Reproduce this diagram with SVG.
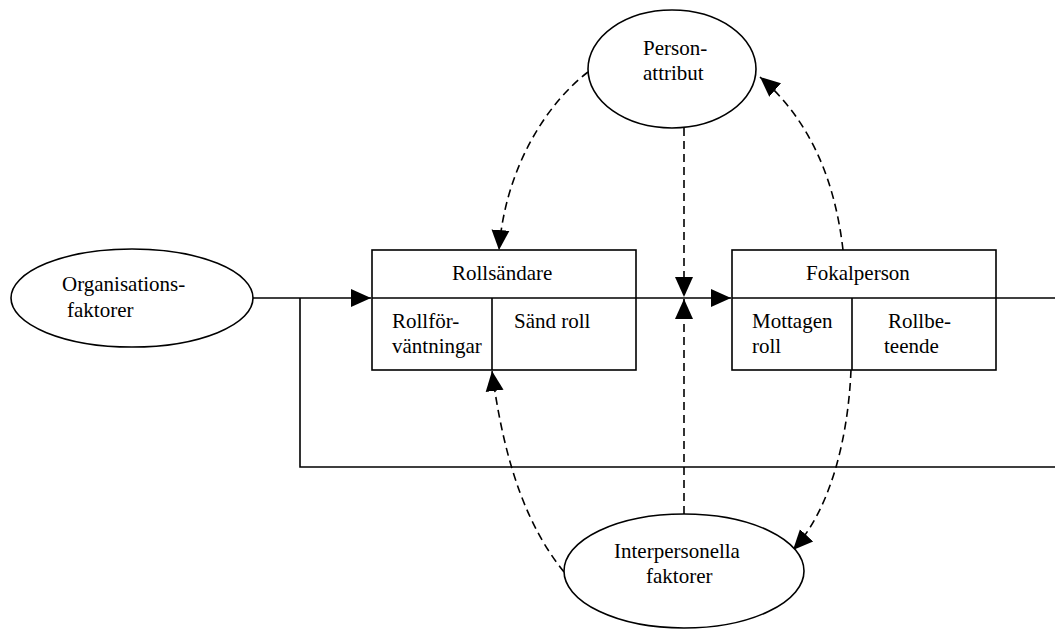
<svg xmlns="http://www.w3.org/2000/svg" width="1055" height="629" viewBox="0 0 1055 629">
<style>
text{font-family:"Liberation Serif","Times New Roman",serif;font-size:21px;fill:#000}
.s{fill:none;stroke:#000;stroke-width:1.6}
.d{fill:none;stroke:#000;stroke-width:1.6;stroke-dasharray:8,5}
.n{fill:#fff;stroke:#000;stroke-width:1.6}
</style>
<defs>
<marker id="a" markerUnits="userSpaceOnUse" markerWidth="20" markerHeight="20" refX="20" refY="10" orient="auto">
<path d="M0,1 L20,10 L0,19 z" fill="#000"/>
</marker>
</defs>
<g id="connectors">
<path class="s" d="M253,298 H371" marker-end="url(#a)"/>
<path class="s" d="M300,298 V467 H1055"/>
<path class="s" d="M636,298 H731" marker-end="url(#a)"/>
<path class="s" d="M996,298 H1055"/>
<path class="d" d="M684,128 V297" marker-end="url(#a)"/>
<path class="d" d="M684,514 V299" marker-end="url(#a)"/>
<path class="d" d="M588,72 C545,105 505,170 499,250" marker-end="url(#a)"/>
<path class="d" d="M843,250 C835,180 810,120 760,77" marker-end="url(#a)"/>
<path class="d" d="M564,572 C530,530 505,470 492,371" marker-end="url(#a)"/>
<path class="d" d="M851,370 C848,440 830,510 793,550" marker-end="url(#a)"/>
</g>
<g id="organisationsfaktorer">
<ellipse class="n" cx="132" cy="298" rx="121" ry="49"/>
<text x="62" y="291">Organisations-</text>
<text x="67" y="317">faktorer</text>
</g>
<g id="personattribut">
<ellipse class="n" cx="672" cy="69" rx="84" ry="59"/>
<text x="643" y="55">Person-</text>
<text x="643" y="80">attribut</text>
</g>
<g id="interpersonella">
<ellipse class="n" cx="684" cy="571" rx="120" ry="57"/>
<text x="614" y="558">Interpersonella</text>
<text x="646" y="583">faktorer</text>
</g>
<g id="rollsandare">
<rect class="n" x="372" y="250" width="264" height="120"/>
<path class="s" d="M372,298 H636 M492,298 V370"/>
<text x="452" y="280">Rollsändare</text>
<text x="392" y="328">Rollför-</text>
<text x="392" y="353">väntningar</text>
<text x="514" y="328">Sänd roll</text>
</g>
<g id="fokalperson">
<rect class="n" x="732" y="250" width="264" height="120"/>
<path class="s" d="M732,298 H996 M852,298 V370"/>
<text x="806" y="280">Fokalperson</text>
<text x="752" y="328">Mottagen</text>
<text x="752" y="353">roll</text>
<text x="888" y="328">Rollbe-</text>
<text x="884" y="353">teende</text>
</g>
</svg>
